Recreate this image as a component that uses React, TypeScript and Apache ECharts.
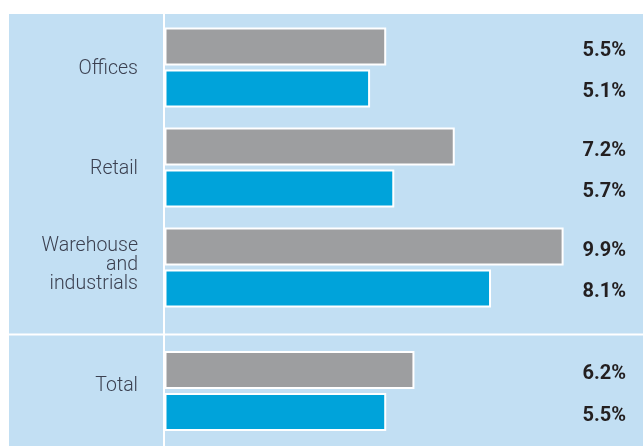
import React, { useEffect, useRef } from "react";
import * as echarts from "echarts";

const topCategories = ["Offices", "Retail", "Warehouse\nand\nindustrials"];
const bottomCategories = ["Total"];
const grayTop = [5.5, 7.2, 9.9];
const blueTop = [5.1, 5.7, 8.1];
const grayBottom = [6.2];
const blueBottom = [5.5];

const BG = "#c2dff3";
const GRAY = "#9d9ea0";
const BLUE = "#00a3da";

export default function App() {
  const ref = useRef<HTMLDivElement>(null);
  useEffect(() => {
    if (!ref.current) return;
    const chart = echarts.init(ref.current, undefined, { renderer: "svg" });
    const barCommon = (color: string, gridIdx: number) => ({
      type: "bar",
      xAxisIndex: gridIdx,
      yAxisIndex: gridIdx,
      barWidth: 38,
      barGap: "10.5%",
      itemStyle: { color, borderColor: "#ffffff", borderWidth: 2 },
      label: {
        show: true,
        position: [461.5, 21],
        align: "right",
        verticalAlign: "middle",
        formatter: (p: any) => p.value.toFixed(1) + "%",
        fontFamily: "Roboto",
        fontWeight: "bold",
        fontSize: 20,
        color: "#231f20",
      },
    });
    const xAxisCommon = (gridIndex: number) => ({
      type: "value",
      gridIndex,
      min: 0,
      max: 11.87,
      show: false,
    });
    const yAxisCommon = (gridIndex: number, data: string[], padBottom: number) => ({
      type: "category",
      gridIndex,
      data,
      inverse: true,
      axisLine: { show: false },
      axisTick: { show: false },
      axisLabel: {
        margin: 26.5,
        fontFamily: "Roboto",
        fontWeight: 300,
        fontSize: 19.5,
        lineHeight: 19,
        color: "#3b4050",
        align: "right",
        padding: [0, 0, padBottom, 0],
        formatter: (v: string) => (v.indexOf("\n") >= 0 ? v + "\n{s|}" : v),
        rich: { s: { lineHeight: 9, height: 9, fontSize: 9 } },
      },
    });
    chart.setOption({
      animation: false,
      graphic: [
        {
          type: "rect",
          z: -100,
          shape: { x: 9, y: 14, width: 634, height: 432 },
          style: { fill: BG },
          silent: true,
        },
        {
          type: "rect",
          z: -50,
          shape: { x: 163, y: 14, width: 2, height: 432 },
          style: { fill: "#ffffff" },
          silent: true,
        },
        {
          type: "rect",
          z: -50,
          shape: { x: 9, y: 333.5, width: 634, height: 2 },
          style: { fill: "#ffffff" },
          silent: true,
        },
      ],
      grid: [
        { left: 164.5, top: 17.5, right: 0, height: 300 },
        { left: 164.5, top: 341, right: 0, height: 100 },
      ],
      xAxis: [xAxisCommon(0), xAxisCommon(1)],
      yAxis: [yAxisCommon(0, topCategories, 0), yAxisCommon(1, bottomCategories, 14)],
      series: [
        { ...barCommon(GRAY, 0), data: grayTop },
        { ...barCommon(BLUE, 0), data: blueTop },
        { ...barCommon(GRAY, 1), data: grayBottom },
        { ...barCommon(BLUE, 1), data: blueBottom },
      ],
    });
    return () => chart.dispose();
  }, []);
  return (
    <div
      ref={ref}
      style={{ position: "fixed", left: 0, top: 0, width: 643, height: 446 }}
    />
  );
}
